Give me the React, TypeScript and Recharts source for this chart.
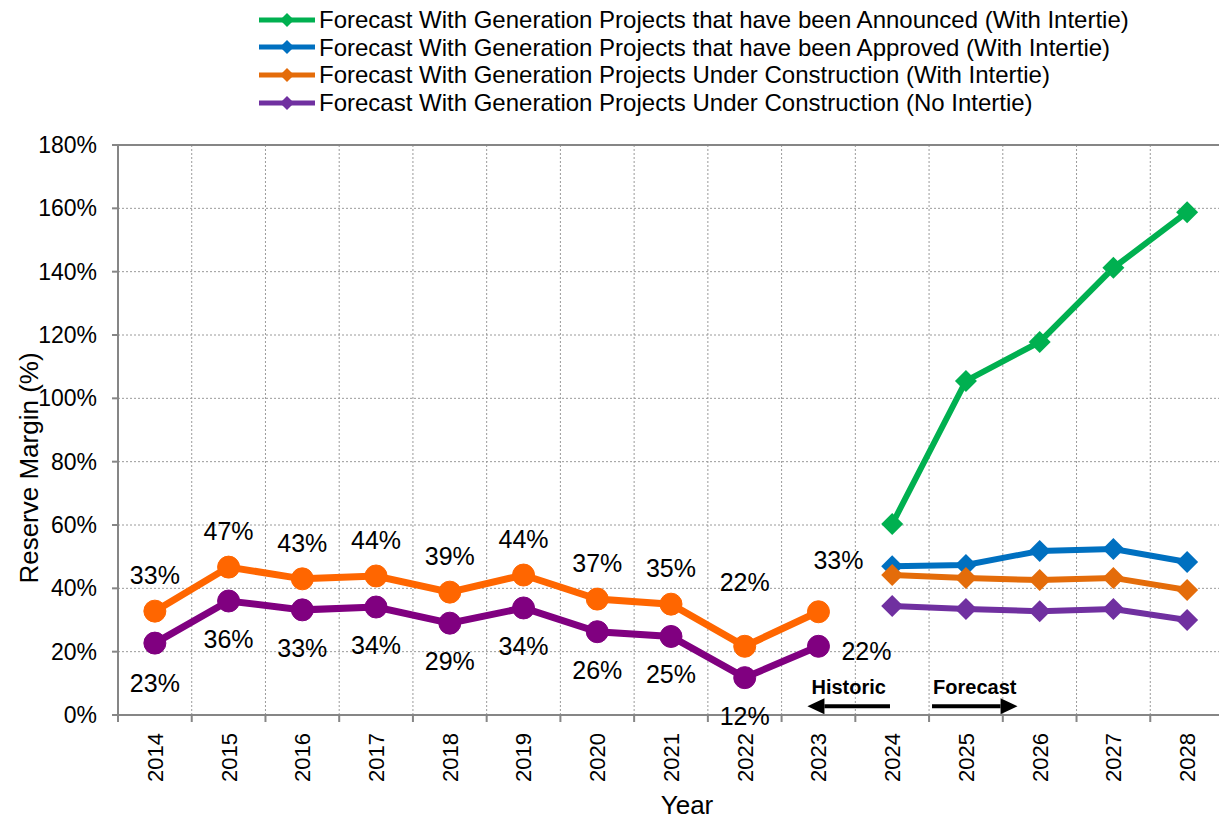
import React from "react";
import {
  LineChart,
  Line,
  XAxis,
  YAxis,
  CartesianGrid,
  ReferenceLine,
  LabelList,
} from "recharts";

// ---- data ----
const years = [
  2014, 2015, 2016, 2017, 2018, 2019, 2020, 2021, 2022, 2023, 2024, 2025, 2026,
  2027, 2028,
];
// historic 2014-2023
const histWithIntertie = [32.8, 46.7, 43.0, 43.9, 38.8, 44.2, 36.6, 35.0, 21.7, 32.6];
const histNoIntertie = [22.7, 36.0, 33.2, 34.1, 29.0, 33.8, 26.3, 24.8, 11.8, 21.7];
// forecast 2024-2028
const fcAnnounced = [60.3, 105.5, 117.8, 141.2, 158.8];
const fcApproved = [47.0, 47.4, 51.8, 52.4, 48.3];
const fcUnderConstruction = [44.2, 43.3, 42.6, 43.3, 39.5];
const fcNoIntertie = [34.4, 33.5, 32.8, 33.5, 30.0];
const yTicks = [0, 20, 40, 60, 80, 100, 120, 140, 160, 180];

const HIST_COUNT = histWithIntertie.length;

const data = years.map((year, i) => ({
  year,
  histWith: i < HIST_COUNT ? histWithIntertie[i] : null,
  histNo: i < HIST_COUNT ? histNoIntertie[i] : null,
  announced: i >= HIST_COUNT ? fcAnnounced[i - HIST_COUNT] : null,
  approved: i >= HIST_COUNT ? fcApproved[i - HIST_COUNT] : null,
  underCon: i >= HIST_COUNT ? fcUnderConstruction[i - HIST_COUNT] : null,
  noTie: i >= HIST_COUNT ? fcNoIntertie[i - HIST_COUNT] : null,
}));

const forecastSeries = [
  { key: "announced", color: "#00B050", name: "Forecast With Generation Projects that have been Announced (With Intertie)" },
  { key: "approved", color: "#0070C0", name: "Forecast With Generation Projects that have been Approved (With Intertie)" },
  { key: "underCon", color: "#E46C0A", name: "Forecast With Generation Projects Under Construction (With Intertie)" },
  { key: "noTie", color: "#7030A0", name: "Forecast With Generation Projects Under Construction (No Intertie)" },
];

// ---- layout ----
const FONT = '"Liberation Sans", Arial, sans-serif';
const CHART_W = 1230;
const CHART_H = 821;
const Y_AXIS_W = 118;
const X_AXIS_H = 106;
const TOP = 145;
const RIGHT = 6;
const PLOT_BOTTOM = CHART_H - X_AXIS_H;
const HALF = (CHART_W - Y_AXIS_W - RIGHT) / years.length / 2;
const AXIS_GRAY = "#868686";

// label nudges for the historic data labels
const withShift: Record<number, [number, number]> = { 2022: [0, -64], 2023: [20, -52] };
const noShift: Record<number, [number, number]> = { 2014: [0, 40], 2023: [48, 5] };

const makeLabel =
  (shifts: Record<number, [number, number]>, def: [number, number]) =>
  (p: any) => {
    if (p.value == null || p.x == null) return null;
    const [dx, dy] = shifts[years[p.index]] ?? def;
    return (
      <text
        x={p.x + dx}
        y={p.y + dy}
        textAnchor="middle"
        dominantBaseline="central"
        fontSize={25}
        fontFamily={FONT}
        fill="#000"
      >
        {`${Math.round(p.value)}%`}
      </text>
    );
  };

const diamondDot = (color: string) => (p: any) => {
  const { cx, cy, index } = p;
  if (cx == null || cy == null || p.value == null) return <g key={`e-${index}`} />;
  const r = 11;
  return (
    <path
      key={`d-${index}`}
      d={`M${cx},${cy - r} L${cx + r},${cy} L${cx},${cy + r} L${cx - r},${cy} Z`}
      fill={color}
    />
  );
};

const XTick = (p: any) => {
  const { x, index } = p;
  return (
    <g>
      <line x1={x - HALF} x2={x - HALF} y1={PLOT_BOTTOM} y2={PLOT_BOTTOM + 7} stroke={AXIS_GRAY} strokeWidth={2} />
      {index === years.length - 1 && (
        <line x1={x + HALF} x2={x + HALF} y1={PLOT_BOTTOM} y2={PLOT_BOTTOM + 7} stroke={AXIS_GRAY} strokeWidth={2} />
      )}
      <text
        transform={`translate(${x},${PLOT_BOTTOM + 18}) rotate(-90)`}
        textAnchor="end"
        dy="0.36em"
        fontSize={22}
        fontFamily={FONT}
        fill="#000"
      >
        {p.payload.value}
      </text>
    </g>
  );
};

const Arrow = (p: any) => {
  const { x1, y1, x2, text } = p;
  const dir = x2 > x1 ? 1 : -1;
  const headLen = 17;
  const baseX = x2 - dir * headLen;
  return (
    <g>
      <line x1={x1} y1={y1} x2={baseX} y2={y1} stroke="#000" strokeWidth={4} />
      <path d={`M${x2},${y1} L${baseX},${y1 - 8} L${baseX},${y1 + 8} Z`} fill="#000" />
      <text
        x={(x1 + x2) / 2}
        y={y1 - 19}
        textAnchor="middle"
        dominantBaseline="central"
        fontSize={20}
        fontWeight="bold"
        fontFamily={FONT}
        fill="#000"
      >
        {text}
      </text>
    </g>
  );
};

const Legend = () => (
  <div style={{ position: "absolute", left: 257, top: 6, fontFamily: FONT, fontSize: 24 }}>
    {forecastSeries.map((s) => (
      <div key={s.key} style={{ display: "flex", alignItems: "center", height: 27.6 }}>
        <svg width={60} height={20} style={{ display: "block" }}>
          <line x1={2} x2={58} y1={10} y2={10} stroke={s.color} strokeWidth={5} />
          <path d="M30,3 L37,10 L30,17 L23,10 Z" fill={s.color} />
        </svg>
        <span style={{ marginLeft: 2, whiteSpace: "nowrap", color: "#000", lineHeight: "27px" }}>{s.name}</span>
      </div>
    ))}
  </div>
);

export default function App() {
  return (
    <div
      style={{
        position: "absolute",
        left: 0,
        top: 0,
        width: 1219,
        height: 821,
        overflow: "hidden",
        background: "#fff",
        fontFamily: FONT,
      }}
    >
      <LineChart
        width={CHART_W}
        height={CHART_H}
        data={data}
        margin={{ top: TOP, right: RIGHT, left: 0, bottom: 0 }}
      >
        <CartesianGrid
          stroke="#9a9a9a"
          strokeDasharray="2 2"
          verticalCoordinatesGenerator={({ offset }: any) =>
            years.slice(1).map((_, k) => offset.left + ((k + 1) * offset.width) / years.length)
          }
        />
        <XAxis
          dataKey="year"
          type="number"
          domain={[years[0] - 0.5, years[years.length - 1] + 0.5]}
          ticks={years}
          height={X_AXIS_H}
          interval={0}
          tickLine={false}
          axisLine={{ stroke: AXIS_GRAY, strokeWidth: 2 }}
          tick={<XTick />}
          label={{
            content: (p: any) => (
              <text
                x={p.viewBox.x + p.viewBox.width / 2 + 16}
                y={CHART_H - 7}
                textAnchor="middle"
                fontSize={26}
                fontFamily={FONT}
                fill="#000"
              >
                Year
              </text>
            ),
          }}
        />
        <YAxis
          type="number"
          domain={[0, 180]}
          ticks={yTicks}
          width={Y_AXIS_W}
          tickSize={6}
          tickMargin={15}
          tickFormatter={(v: number) => `${v}%`}
          tick={{ fontSize: 23, fill: "#000", fontFamily: FONT }}
          tickLine={{ stroke: AXIS_GRAY, strokeWidth: 2 }}
          axisLine={{ stroke: AXIS_GRAY, strokeWidth: 2 }}
          label={{
            content: (p: any) => (
              <text
                transform={`translate(${p.viewBox.x + 29},${p.viewBox.y + p.viewBox.height / 2 + 38}) rotate(-90)`}
                textAnchor="middle"
                dominantBaseline="central"
                fontSize={26}
                fontFamily={FONT}
                fill="#000"
              >
                Reserve Margin (%)
              </text>
            ),
          }}
        />
        <ReferenceLine y={180} stroke={AXIS_GRAY} strokeWidth={2} />

        <Line
          dataKey="histWith"
          stroke="#FF6600"
          strokeWidth={7}
          dot={{ r: 11, fill: "#FF6600", stroke: "#FF6600", strokeWidth: 1 }}
          activeDot={false}
          isAnimationActive={false}
        >
          <LabelList dataKey="histWith" content={makeLabel(withShift, [0, -36])} />
        </Line>
        <Line
          dataKey="histNo"
          stroke="#800080"
          strokeWidth={7}
          dot={{ r: 11, fill: "#800080", stroke: "#800080", strokeWidth: 1 }}
          activeDot={false}
          isAnimationActive={false}
        >
          <LabelList dataKey="histNo" content={makeLabel(noShift, [0, 38])} />
        </Line>

        {forecastSeries.map((s) => (
          <Line
            key={s.key}
            dataKey={s.key}
            stroke={s.color}
            strokeWidth={6}
            dot={diamondDot(s.color)}
            activeDot={false}
            isAnimationActive={false}
          />
        ))}

        <ReferenceLine
          segment={[
            { x: 2023.97, y: 2.8 },
            { x: 2022.85, y: 2.8 },
          ]}
          ifOverflow="visible"
          shape={(p: any) => <Arrow {...p} text="Historic" />}
        />
        <ReferenceLine
          segment={[
            { x: 2024.54, y: 2.8 },
            { x: 2025.7, y: 2.8 },
          ]}
          ifOverflow="visible"
          shape={(p: any) => <Arrow {...p} text="Forecast" />}
        />
      </LineChart>
      <Legend />
    </div>
  );
}
